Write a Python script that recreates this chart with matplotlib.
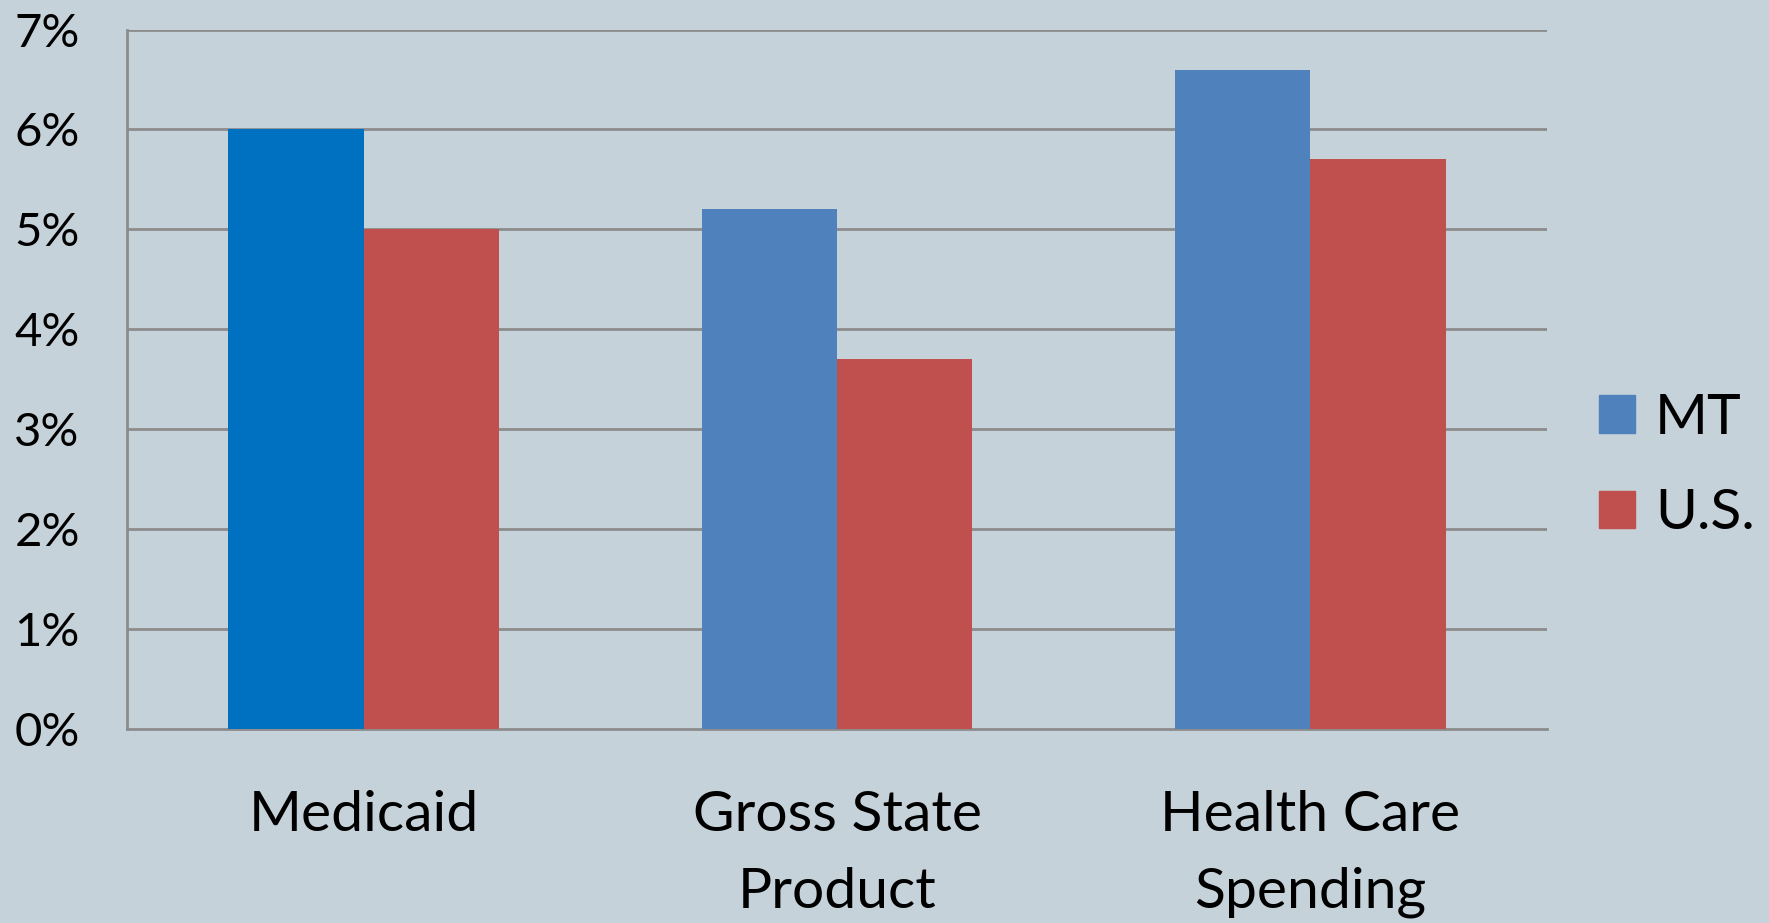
import numpy as np
import matplotlib.pyplot as plt

categories = ['Medicaid', 'Gross State\nProduct', 'Health Care\nSpending']
mt_values = [6.0, 5.2, 6.6]
us_values = [5.0, 3.7, 5.7]
y_ticks = [0, 1, 2, 3, 4, 5, 6, 7]

bg = '#C6D2D9'
mt_color = '#4F81BD'
mt_first = '#0070C0'
us_color = '#C0504D'
grid_color = '#8C8C8C'

plt.rcParams['font.family'] = ['Lato', 'DejaVu Sans']

fig = plt.figure(figsize=(17.69, 9.23), dpi=100, facecolor=bg)
ax = fig.add_axes([0.0718, 0.2102, 0.8027, 0.7578])
ax.set_facecolor(bg)

x = np.arange(len(categories))
width = 0.286
mt_colors = [mt_first] + [mt_color] * (len(categories) - 1)
ax.bar(x - width / 2, mt_values, width, color=mt_colors, zorder=3)
ax.bar(x + width / 2, us_values, width, color=us_color, zorder=3)

ax.set_xlim(-0.5, len(categories) - 0.5)
ax.set_ylim(0, 7)
ax.set_yticks(y_ticks)
ax.set_yticklabels([f'{v}%' for v in y_ticks])
ax.set_xticks(x)
ax.set_xticklabels(categories, linespacing=1.62)
ax.tick_params(axis='y', length=0, pad=34, labelsize=34)
ax.tick_params(axis='x', length=0, pad=44, labelsize=41)

for v in y_ticks[1:]:
    ax.axhline(v, color=grid_color, lw=2, zorder=1)

for side in ['top', 'right']:
    ax.spines[side].set_visible(False)
for side in ['left', 'bottom']:
    ax.spines[side].set_color(grid_color)
    ax.spines[side].set_linewidth(2)

handles = [plt.Rectangle((0, 0), 1, 1, color=mt_color),
           plt.Rectangle((0, 0), 1, 1, color=us_color)]
fig.legend(handles, ['MT', 'U.S.'], loc='center left',
           bbox_to_anchor=(0.904, 0.495), frameon=False, fontsize=41,
           handlelength=0.63, handleheight=0.63, handletextpad=0.35,
           labelspacing=0.78, borderpad=0, borderaxespad=0)

fig.savefig('out.png', dpi=100, facecolor=bg)
